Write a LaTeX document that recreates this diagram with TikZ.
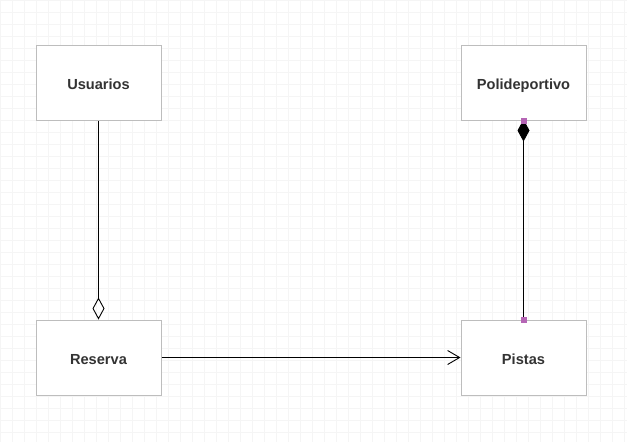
\documentclass[tikz,border=0pt]{standalone}
\usepackage{fontspec}
\setmainfont{Liberation Sans}
\usetikzlibrary{arrows.meta}
\definecolor{gridc}{HTML}{F5F5F5}
\definecolor{boxc}{HTML}{BDBDBD}
\definecolor{txtc}{HTML}{333333}
\definecolor{portc}{HTML}{B565B5}
\begin{document}
\begin{tikzpicture}[x=1pt,y=-1pt,
  cls/.style={draw=boxc,line width=1pt,fill=white,minimum width=125pt,minimum height=75pt,inner sep=0pt,
    text height=13.4pt,text depth=0pt,
    font=\fontsize{14.6}{16}\selectfont\bfseries,text=txtc},
  port/.style={fill=portc,minimum size=6pt,inner sep=0pt},
  link/.style={line width=0.9pt,black}]
\useasboundingbox (0,0) rectangle (627,442);
\fill[white] (0,0) rectangle (627,442);
\draw[gridc,line width=0.6pt] (0,0) grid[step=12pt] (627,442);
\node[cls] (usu) at (98.5,82.5) {Usuarios};
\node[cls] (poli) at (523.5,82.5) {Polideportivo};
\node[cls] (res) at (98.5,357.5) {Reserva};
\node[cls] (pis) at (523.5,357.5) {Pistas};
\draw[link,{Diamond[open,length=22pt,width=12pt,line width=0.9pt]}-] (res.north) -- (usu.south);
\draw[link,-{Straight Barb[length=12pt,width=14pt,line width=0.9pt]}] (res.east) -- (pis.west);
\draw[link,{Diamond[fill=black,length=22pt,width=12pt]}-] ([yshift=1pt]poli.south) -- (pis.north);
\node[port] (p1) at (poli.south) {};
\node[port] (p2) at (pis.north) {};
\end{tikzpicture}
\end{document}
